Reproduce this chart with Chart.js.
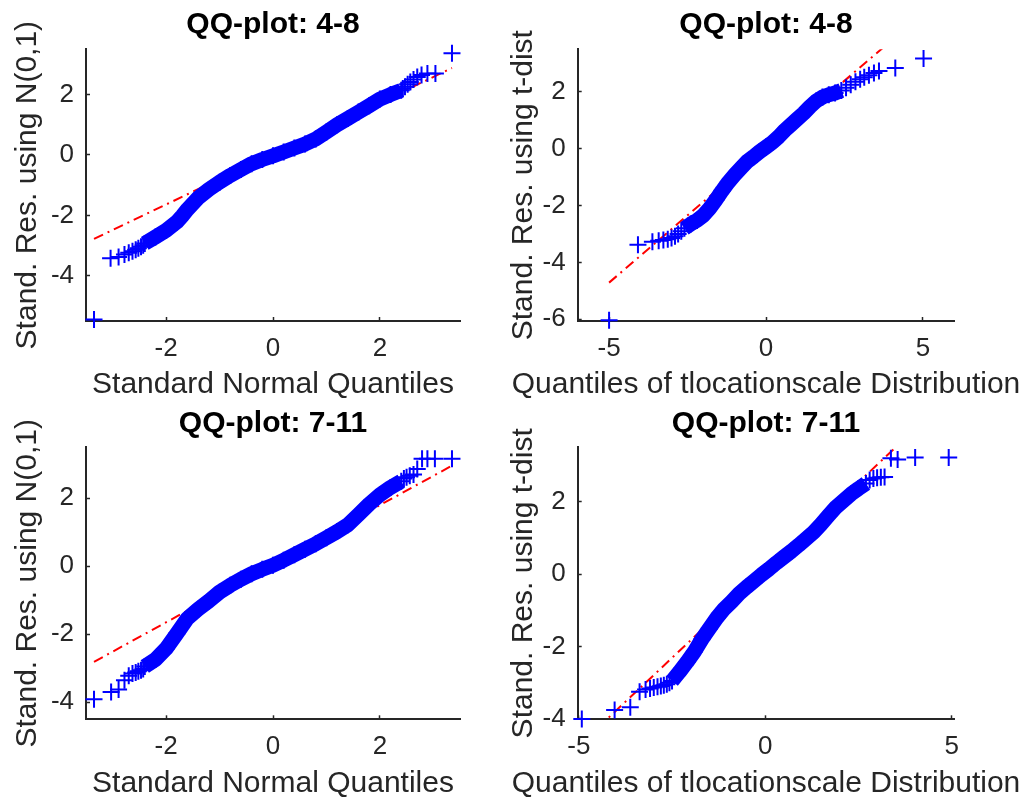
<!DOCTYPE html>
<html>
<head>
<meta charset="utf-8">
<script src="https://cdn.jsdelivr.net/npm/chart.js@4.4.1/dist/chart.umd.min.js"></script>
<style>
  html, body { margin: 0; padding: 0; background: #fff; }
  #wrap { position: relative; width: 1023px; height: 799px; }
  #wrap canvas { position: absolute; left: 0; top: 0; }
</style>
</head>
<body>
<div id="wrap">
  <canvas id="qqA" width="1023" height="799"></canvas>
  <canvas id="qqB" width="1023" height="799"></canvas>
  <canvas id="qqC" width="1023" height="799"></canvas>
  <canvas id="qqD" width="1023" height="799"></canvas>
</div>
<script>
// ---- data ----

// A : 4-8, normal quantiles
const titleA = 'QQ-plot: 4-8';
const xLabelA = 'Standard Normal Quantiles';
const yLabelA = 'Stand. Res. using N(0,1)';
const xTicksA = [-2, 0, 2];
const yTicksA = [-4, -2, 0, 2];
const tailXA = [-3.35, -3.04, -2.89, -2.78, -2.70, -2.63, -2.57, -2.52, -2.47, -2.43, 2.43, 2.47, 2.52, 2.57, 2.63, 2.70, 2.78, 2.89, 3.04, 3.35];
const tailYA = [-5.45, -3.42, -3.38, -3.30, -3.24, -3.19, -3.14, -3.09, -3.04, -2.99, 2.20, 2.26, 2.34, 2.42, 2.50, 2.58, 2.65, 2.70, 2.70, 3.37];
const bandXA = [-2.4, -2.2, -2.0, -1.8, -1.7, -1.6, -1.4, -1.2, -1.0, -0.8, -0.6, -0.4, -0.2, 0, 0.2, 0.4, 0.6, 0.8, 1.0, 1.2, 1.4, 1.6, 1.8, 2.0, 2.2, 2.4];
const bandYA = [-2.93, -2.72, -2.50, -2.22, -2.02, -1.80, -1.42, -1.14, -0.90, -0.68, -0.48, -0.29, -0.15, -0.03, 0.10, 0.23, 0.36, 0.53, 0.76, 1.00, 1.21, 1.42, 1.63, 1.85, 2.00, 2.14];
const refXA = [-3.35, 3.35];
const refYA = [-2.78, 2.88];

// B : 4-8, t location-scale quantiles
const titleB = 'QQ-plot: 4-8';
const xLabelB = 'Quantiles of tlocationscale Distribution';
const yLabelB = 'Stand. Res. using t-dist';
const xTicksB = [-5, 0, 5];
const yTicksB = [-6, -4, -2, 0, 2];
const tailXB = [-5.00, -4.08, -3.62, -3.42, -3.27, -3.13, -3.01, -2.90, -2.80, -2.70, 2.55, 2.70, 2.85, 3.00, 3.13, 3.28, 3.44, 3.60, 4.12, 5.02];
const tailYB = [-6.03, -3.38, -3.27, -3.24, -3.21, -3.18, -3.14, -3.08, -3.00, -2.90, 2.15, 2.25, 2.36, 2.45, 2.52, 2.59, 2.67, 2.74, 2.84, 3.18];
const bandXB = [-2.6, -2.4, -2.2, -2.0, -1.8, -1.6, -1.4, -1.2, -1.0, -0.8, -0.6, -0.4, -0.2, 0, 0.2, 0.4, 0.6, 0.8, 1.0, 1.2, 1.4, 1.6, 1.8, 2.0, 2.2, 2.4];
const bandYB = [-2.80, -2.65, -2.52, -2.35, -2.10, -1.80, -1.48, -1.18, -0.92, -0.68, -0.45, -0.28, -0.10, 0.06, 0.22, 0.42, 0.65, 0.85, 1.05, 1.25, 1.48, 1.68, 1.82, 1.90, 1.96, 2.05];
const refXB = [-5.0, 5.0];
const refYB = [-4.71, 4.76];

// C : 7-11, normal quantiles
const titleC = 'QQ-plot: 7-11';
const xLabelC = 'Standard Normal Quantiles';
const yLabelC = 'Stand. Res. using N(0,1)';
const xTicksC = [-2, 0, 2];
const yTicksC = [-4, -2, 0, 2];
const tailXC = [-3.35, -3.03, -2.89, -2.78, -2.70, -2.63, -2.57, -2.52, -2.47, -2.43, 2.45, 2.50, 2.56, 2.63, 2.70, 2.79, 2.89, 3.03, 3.35];
const tailYC = [-3.91, -3.70, -3.62, -3.35, -3.22, -3.15, -3.12, -3.09, -3.06, -3.02, 2.58, 2.62, 2.66, 2.70, 2.86, 3.16, 3.16, 3.16, 3.16];
const bandXC = [-2.4, -2.2, -2.0, -1.8, -1.6, -1.4, -1.2, -1.0, -0.8, -0.6, -0.4, -0.2, 0, 0.2, 0.4, 0.6, 0.8, 1.0, 1.2, 1.4, 1.6, 1.8, 2.0, 2.2, 2.4];
const bandYC = [-2.95, -2.74, -2.42, -1.98, -1.53, -1.26, -1.02, -0.76, -0.56, -0.38, -0.22, -0.09, 0.03, 0.18, 0.34, 0.50, 0.66, 0.84, 1.02, 1.22, 1.52, 1.83, 2.10, 2.32, 2.50];
const refXC = [-3.35, 3.35];
const refYC = [-2.81, 2.96];

// D : 7-11, t location-scale quantiles
const titleD = 'QQ-plot: 7-11';
const xLabelD = 'Quantiles of tlocationscale Distribution';
const yLabelD = 'Stand. Res. using t-dist';
const xTicksD = [-5, 0, 5];
const yTicksD = [-4, -2, 0, 2];
const tailXD = [-4.92, -4.04, -3.62, -3.37, -3.21, -3.09, -2.99, -2.89, -2.80, -2.72, -2.64, -2.57, 2.80, 2.90, 3.00, 3.10, 3.20, 3.37, 3.55, 4.02, 4.92];
const tailYD = [-4.00, -3.75, -3.68, -3.25, -3.19, -3.16, -3.13, -3.11, -3.09, -3.07, -3.04, -3.00, 2.60, 2.64, 2.66, 2.67, 2.68, 3.20, 3.16, 3.22, 3.22];
const bandXD = [-2.5, -2.3, -2.1, -1.9, -1.7, -1.5, -1.3, -1.1, -0.9, -0.7, -0.5, -0.3, -0.1, 0.1, 0.3, 0.5, 0.7, 0.9, 1.1, 1.3, 1.5, 1.7, 1.9, 2.1, 2.3, 2.5, 2.7];
const bandYD = [-2.95, -2.70, -2.43, -2.14, -1.80, -1.50, -1.21, -0.96, -0.76, -0.54, -0.36, -0.19, -0.02, 0.14, 0.31, 0.47, 0.63, 0.80, 0.98, 1.16, 1.38, 1.62, 1.85, 2.03, 2.21, 2.36, 2.50];
const refXD = [-4.92, 4.92];
const refYD = [-4.66, 4.88];

// ---- look ----
const FONT = 'Arial, "Liberation Sans", Helvetica, sans-serif';
const BLUE = '#0000ff';
const RED = '#ff0000';
const AXIS = '#262626';

// x axis label drawn without Chart.js' maxWidth squeeze (long labels overhang the axes)
const xTitlePlugin = {
    id: 'xTitle',
    afterDraw(chart, args, opts) {
        const a = chart.chartArea;
        const ctx = chart.ctx;
        ctx.save();
        ctx.font = '30px ' + FONT;
        ctx.fillStyle = AXIS;
        ctx.textAlign = 'center';
        ctx.textBaseline = 'middle';
        ctx.fillText(opts.text, (a.left + a.right) / 2, a.bottom + opts.offset);
        ctx.restore();
    }
};

function pts(xs, ys) {
    return xs.map((x, i) => ({ x: x, y: ys[i] }));
}

function makePanel(id, p) {
    new Chart(document.getElementById(id), {
        type: 'scatter',
        data: {
            datasets: [
                {   // sparse tail points
                    data: pts(p.tailX, p.tailY),
                    showLine: false,
                    pointStyle: 'cross', pointRadius: 8.5, pointBorderWidth: 2,
                    borderColor: BLUE, backgroundColor: BLUE,
                    clip: false, order: 1
                },
                {   // dense middle of the sample
                    data: pts(p.bandX, p.bandY),
                    showLine: true, borderWidth: p.bandWidth, borderColor: BLUE,
                    borderJoinStyle: 'round',
                    pointStyle: 'cross', pointRadius: 8.5, pointBorderWidth: 2,
                    pointBorderColor: BLUE, backgroundColor: BLUE,
                    clip: false, order: 1
                },
                {   // reference line through the quartiles
                    data: pts(p.refX, p.refY),
                    showLine: true, borderColor: RED, borderWidth: 2,
                    borderDash: [10, 5, 2, 5],
                    pointRadius: 0, order: 3
                }
            ]
        },
        options: {
            responsive: false, maintainAspectRatio: false,
            animation: false, events: [],
            layout: { padding: p.pad },
            plugins: {
                legend: { display: false },
                tooltip: { enabled: false },
                title: {
                    display: true, text: p.title, fullSize: false,
                    color: '#000', font: { family: FONT, size: 30, weight: 'bold' },
                    padding: p.titlePad
                },
                xTitle: { text: p.xLabel, offset: 64 }
            },
            scales: {
                x: {
                    type: 'linear', position: 'bottom',
                    min: p.xMin, max: p.xMax,
                    afterFit: s => { s.height = p.xH; },
                    afterBuildTicks: s => { s.ticks = p.xTicks.map(v => ({ value: v })); },
                    grid: { drawOnChartArea: false, tickLength: -4, color: AXIS, tickWidth: 1.5 },
                    border: { color: AXIS, width: 2 },
                    ticks: { color: AXIS, font: { family: FONT, size: 26 }, padding: 16, maxRotation: 0, autoSkip: false }
                },
                y: {
                    type: 'linear', position: 'left',
                    min: p.yMin, max: p.yMax,
                    afterFit: s => { s.width = p.yW; },
                    afterBuildTicks: s => { s.ticks = p.yTicks.map(v => ({ value: v })); },
                    grid: { drawOnChartArea: false, tickLength: -4, color: AXIS, tickWidth: 1.5 },
                    border: { color: AXIS, width: 2 },
                    ticks: { color: AXIS, font: { family: FONT, size: 26 }, padding: 16, autoSkip: false },
                    title: {
                        display: true, text: p.yLabel, color: AXIS,
                        font: { family: FONT, size: 30 },
                        padding: { top: p.yTitleOff, bottom: 0 }
                    }
                }
            }
        },
        plugins: [xTitlePlugin]
    });
}

makePanel('qqA', {
    title: titleA, xLabel: xLabelA, yLabel: yLabelA, xTicks: xTicksA, yTicks: yTicksA,
    tailX: tailXA, tailY: tailYA, bandX: bandXA, bandY: bandYA, refX: refXA, refY: refYA,
    xMin: -3.5, xMax: 3.5, yMin: -5.5, yMax: 3.5, bandWidth: 15,
    pad: { left: 0, top: 0, right: 563, bottom: 399 },
    titlePad: { top: 7, bottom: 6.3 }, xH: 79, yW: 86, yTitleOff: 10
});
makePanel('qqB', {
    title: titleB, xLabel: xLabelB, yLabel: yLabelB, xTicks: xTicksB, yTicks: yTicksB,
    tailX: tailXB, tailY: tailYB, bandX: bandXB, bandY: bandYB, refX: refXB, refY: refYB,
    xMin: -6, xMax: 6, yMin: -6.06, yMax: 3.5, bandWidth: 15,
    pad: { left: 511, top: 0, right: 68.7, bottom: 399 },
    titlePad: { top: 7, bottom: 6.3 }, xH: 79, yW: 66.7, yTitleOff: -5
});
makePanel('qqC', {
    title: titleC, xLabel: xLabelC, yLabel: yLabelC, xTicks: xTicksC, yTicks: yTicksC,
    tailX: tailXC, tailY: tailYC, bandX: bandXC, bandY: bandYC, refX: refXC, refY: refYC,
    xMin: -3.5, xMax: 3.5, yMin: -4.5, yMax: 3.5, bandWidth: 15,
    pad: { left: 0, top: 400, right: 563, bottom: 0 },
    titlePad: { top: 6, bottom: 5.3 }, xH: 79.7, yW: 86, yTitleOff: 10
});
makePanel('qqD', {
    title: titleD, xLabel: xLabelD, yLabel: yLabelD, xTicks: xTicksD, yTicks: yTicksD,
    tailX: tailXD, tailY: tailYD, bandX: bandXD, bandY: bandYD, refX: refXD, refY: refYD,
    xMin: -5.03, xMax: 5.07, yMin: -4.01, yMax: 3.5, bandWidth: 15,
    pad: { left: 511, top: 400, right: 68.7, bottom: 0 },
    titlePad: { top: 6, bottom: 5.3 }, xH: 79.7, yW: 66.7, yTitleOff: -5
});
</script>
</body>
</html>
